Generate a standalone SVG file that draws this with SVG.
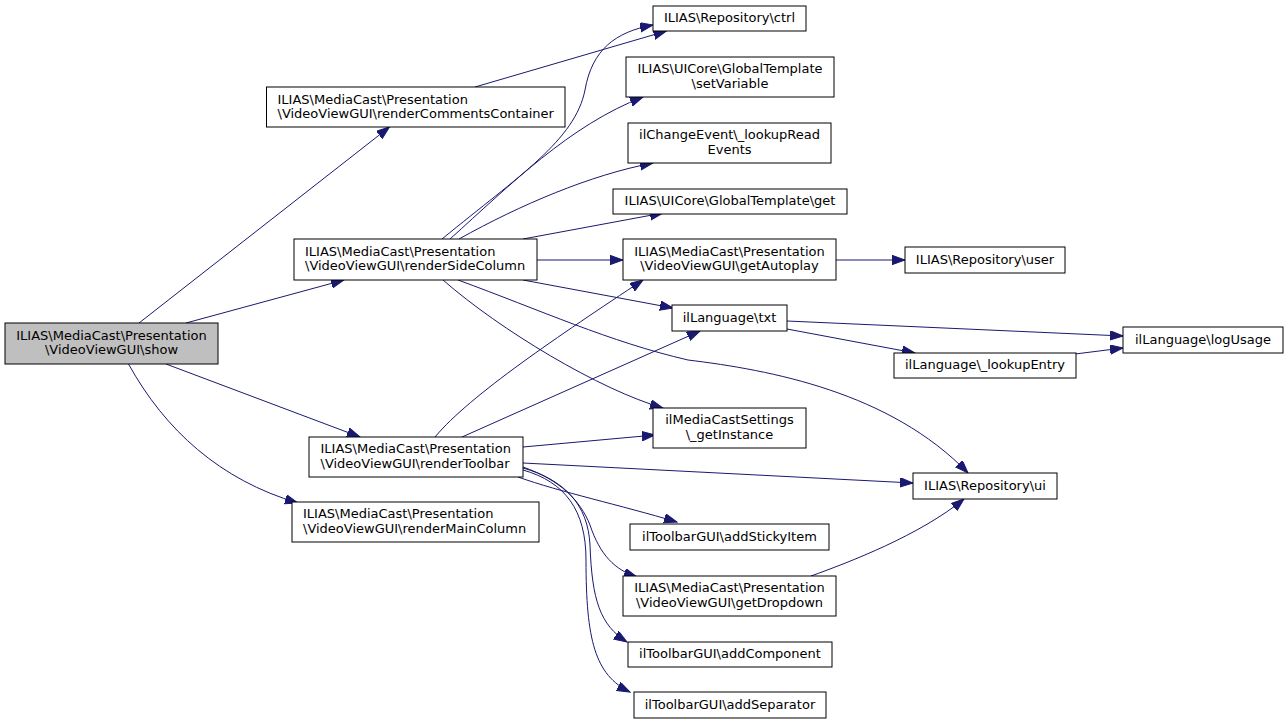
<svg xmlns="http://www.w3.org/2000/svg" width="1288" height="724" viewBox="0 0 1288 724">
<style>
.n rect{fill:#ffffff;stroke:#000000;stroke-width:1}
.n.root rect{fill:#bfbfbf}
.n text{font-family:"DejaVu Sans","Liberation Sans",sans-serif;font-size:13px;fill:#000000}
.c{text-anchor:middle}
.e path{fill:none;stroke:#191970;stroke-width:1;marker-end:url(#ah)}
</style>
<defs>
<marker id="ah" markerUnits="userSpaceOnUse" markerWidth="14" markerHeight="10" refX="13" refY="4.7" orient="auto">
<path d="M0,0 L13,4.7 L0,9.4 z" fill="#191970" stroke="#191970" stroke-width="1"/>
</marker>
</defs>
<rect width="1288" height="724" fill="#ffffff"/>
<g id="edges" class="e">
<path d="M139,323 L389.5,127"/>
<path d="M186,323 L344,280"/>
<path d="M166,364 L360,437"/>
<path d="M128.5,364 C165,430 220,480 298,503"/>
<path d="M475,87 L666.5,31"/>
<path d="M442,239 C520,175 575,140 585,90 C592,50 615,32 653,25"/>
<path d="M450,239 C510,185 570,125 643,97"/>
<path d="M459,239 C520,205 590,175 653,163"/>
<path d="M523,239 L663,213"/>
<path d="M537,260 L623,260"/>
<path d="M523,280 L673,308"/>
<path d="M458,280 C540,310 610,342 688,360 C770,370 890,392 968,473"/>
<path d="M443,280 C500,330 600,390 663,408"/>
<path d="M836,260 L905,260"/>
<path d="M787,321 L1123,336"/>
<path d="M787,329 L915,353"/>
<path d="M1075,354 L1123,348"/>
<path d="M435,437 C470,395 560,335 643,280"/>
<path d="M462,437 L700,331"/>
<path d="M523,447 L655,435"/>
<path d="M523,463 L913,483"/>
<path d="M518,477 C560,492 620,505 677,522"/>
<path d="M523,467 C560,480 580,500 590,525 C600,555 615,570 637,577"/>
<path d="M523,468 C565,480 588,505 590,545 C592,600 600,625 627,642"/>
<path d="M523,470 C565,482 586,510 586,560 C586,640 595,675 630,692"/>
<path d="M811,576 C850,562 920,535 964,499"/>
</g>
<g id="show" class="n root"><rect x="5" y="323" width="213" height="41"/><text class="c" x="111.5" y="339.5">ILIAS\MediaCast\Presentation</text><text class="c" x="111.5" y="354">\VideoViewGUI\show</text></g>
<g id="renderCommentsContainer" class="n"><rect x="266.5" y="87" width="298.5" height="40"/><text x="277.5" y="103.5">ILIAS\MediaCast\Presentation</text><text x="277.5" y="118">\VideoViewGUI\renderCommentsContainer</text></g>
<g id="renderSideColumn" class="n"><rect x="294" y="239" width="243" height="41"/><text x="305" y="255.5">ILIAS\MediaCast\Presentation</text><text x="305" y="270">\VideoViewGUI\renderSideColumn</text></g>
<g id="renderToolbar" class="n"><rect x="309" y="437" width="214" height="40"/><text x="320.5" y="453">ILIAS\MediaCast\Presentation</text><text x="320.5" y="467.5">\VideoViewGUI\renderToolbar</text></g>
<g id="renderMainColumn" class="n"><rect x="292" y="502" width="247" height="40"/><text x="303" y="518">ILIAS\MediaCast\Presentation</text><text x="303" y="532.5">\VideoViewGUI\renderMainColumn</text></g>
<g id="ctrl" class="n"><rect x="653" y="6" width="153" height="25"/><text class="c" x="729.5" y="22">ILIAS\Repository\ctrl</text></g>
<g id="setVariable" class="n"><rect x="626" y="57" width="208" height="40"/><text class="c" x="730" y="73">ILIAS\UICore\GlobalTemplate</text><text class="c" x="730" y="87.5">\setVariable</text></g>
<g id="lookupReadEvents" class="n"><rect x="628" y="123" width="203" height="40"/><text class="c" x="729.5" y="139">ilChangeEvent\_lookupRead</text><text class="c" x="729.5" y="153.5">Events</text></g>
<g id="get" class="n"><rect x="613" y="189" width="234" height="25"/><text class="c" x="730" y="205">ILIAS\UICore\GlobalTemplate\get</text></g>
<g id="getAutoplay" class="n"><rect x="623" y="239" width="213" height="41"/><text class="c" x="729.5" y="255.5">ILIAS\MediaCast\Presentation</text><text class="c" x="729.5" y="270">\VideoViewGUI\getAutoplay</text></g>
<g id="user" class="n"><rect x="905" y="247" width="160" height="26"/><text class="c" x="985" y="263.5">ILIAS\Repository\user</text></g>
<g id="txt" class="n"><rect x="672" y="305" width="115" height="26"/><text class="c" x="729.5" y="321.5">ilLanguage\txt</text></g>
<g id="logUsage" class="n"><rect x="1123" y="327" width="160" height="26"/><text class="c" x="1203" y="343.5">ilLanguage\logUsage</text></g>
<g id="lookupEntry" class="n"><rect x="894" y="353" width="182" height="25"/><text class="c" x="985" y="369">ilLanguage\_lookupEntry</text></g>
<g id="getInstance" class="n"><rect x="653" y="408" width="153" height="40"/><text class="c" x="729.5" y="424">ilMediaCastSettings</text><text class="c" x="729.5" y="438.5">\_getInstance</text></g>
<g id="ui" class="n"><rect x="913" y="473" width="144" height="26"/><text class="c" x="985" y="489.5">ILIAS\Repository\ui</text></g>
<g id="addStickyItem" class="n"><rect x="630" y="524" width="199" height="26"/><text class="c" x="729.5" y="540.5">ilToolbarGUI\addStickyItem</text></g>
<g id="getDropdown" class="n"><rect x="623" y="576" width="213" height="40"/><text class="c" x="729.5" y="592">ILIAS\MediaCast\Presentation</text><text class="c" x="729.5" y="606.5">\VideoViewGUI\getDropdown</text></g>
<g id="addComponent" class="n"><rect x="628" y="642" width="204" height="25"/><text class="c" x="730" y="658">ilToolbarGUI\addComponent</text></g>
<g id="addSeparator" class="n"><rect x="634" y="692" width="192" height="26"/><text class="c" x="730" y="708.5">ilToolbarGUI\addSeparator</text></g>
</svg>
